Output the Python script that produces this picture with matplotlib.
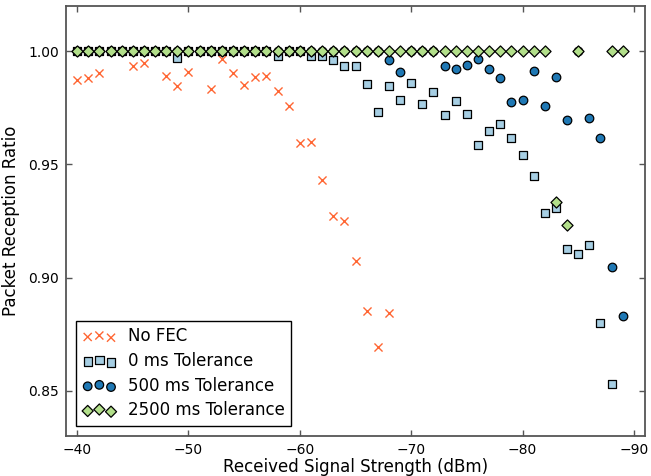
import matplotlib
matplotlib.use('Agg')
import matplotlib.pyplot as plt

# Received signal strength (dBm) and packet reception ratio per scheme
rss_nofec = [-40, -41, -42, -43, -44, -45, -46, -47, -48, -49, -50, -51, -52, -53,
             -54, -55, -56, -57, -58, -59, -60, -61, -62, -63, -64, -65, -66, -67, -68]
prr_nofec = [0.9875, 0.9882, 0.9904, 1.0, 1.0, 0.9934, 0.9949, 1.0, 0.9892, 0.9848,
             0.9907, 1.0, 0.9834, 0.9966, 0.9904, 0.9853, 0.9887, 0.9890, 0.9826,
             0.9757, 0.9595, 0.9600, 0.9430, 0.9273, 0.9248, 0.9075, 0.8854, 0.8695,
             0.8842]

rss_0ms = list(range(-40, -89, -1))
prr_0ms = [1.0, 1.0, 1.0, 1.0, 1.0, 1.0, 1.0, 1.0, 1.0, 0.997,          # -40..-49
           1.0, 1.0, 1.0, 1.0, 1.0, 1.0, 1.0, 1.0, 0.998, 1.0,          # -50..-59
           1.0, 0.998, 0.998, 0.9963, 0.9934, 0.9934, 0.9856, 0.9732,   # -60..-67
           0.9848, 0.9786, 0.986, 0.9769, 0.982, 0.972, 0.9779, 0.9723, # -68..-75
           0.9587, 0.9646, 0.9679, 0.9617, 0.954, 0.9451, 0.9285,       # -76..-82
           0.9307, 0.9126, 0.9105, 0.9142, 0.880, 0.853]                # -83..-88

rss_500ms = list(range(-40, -90, -1))
prr_500ms = [1.0] * 28 + [                                             # -40..-67
             0.9963, 0.9907, 1.0, 1.0, 1.0, 0.9934, 0.9922, 0.9941,    # -68..-75
             0.9966, 0.9922, 0.9882, 0.9776, 0.9783, 0.9912, 0.9757,   # -76..-82
             0.9885, 0.9695, 1.0, 0.9705, 0.9617, 0.9046, 0.883]       # -83..-89

rss_2500ms = list(range(-40, -85, -1)) + [-85, -88, -89]
prr_2500ms = [1.0] * 43 + [0.9332, 0.9233, 1.0, 1.0, 1.0]

c_nofec = '#ff6633'
c_0ms = '#a6cee3'
c_500ms = '#1f78b4'
c_2500ms = '#b2df8a'
spine_gray = '#555555'

fig = plt.figure(figsize=(6.51, 4.76), dpi=100)
ax = fig.add_axes([0.1014, 0.084, 0.8894, 0.9034])

ax.scatter(rss_nofec, prr_nofec, marker='x', s=34, c=c_nofec, linewidths=1.0,
           label='No FEC', zorder=2)
ax.scatter(rss_0ms, prr_0ms, marker='s', s=36, c=c_0ms, edgecolors='black',
           linewidths=0.9, label='0 ms Tolerance', zorder=3)
ax.scatter(rss_500ms, prr_500ms, marker='o', s=38, c=c_500ms, edgecolors='black',
           linewidths=0.9, label='500 ms Tolerance', zorder=4)
ax.scatter(rss_2500ms, prr_2500ms, marker='D', s=32, c=c_2500ms, edgecolors='black',
           linewidths=0.9, label='2500 ms Tolerance', zorder=5)

ax.set_xlim(-39, -91)
ax.set_ylim(0.83, 1.02)
ax.set_xticks([-40, -50, -60, -70, -80, -90])
ax.set_yticks([0.85, 0.90, 0.95, 1.00])
ax.set_yticklabels(['0.85', '0.90', '0.95', '1.00'])

for sp in ax.spines.values():
    sp.set_color(spine_gray)
    sp.set_linewidth(1.3)
ax.tick_params(direction='in', length=4, width=1, color=spine_gray,
               top=True, right=True, labelsize=10, pad=5)

ax.set_xlabel('Received Signal Strength (dBm)', fontsize=12, labelpad=1)
ax.set_ylabel('Packet Reception Ratio', fontsize=12, labelpad=6)

leg = ax.legend(loc='lower left', scatterpoints=3, fontsize=12, fancybox=False,
                frameon=True, borderaxespad=0.6, handletextpad=0.7,
                labelspacing=0.4)
leg.get_frame().set_edgecolor('black')
leg.get_frame().set_linewidth(1.0)
leg.get_frame().set_alpha(1.0)

fig.savefig('out.png', dpi=100)
